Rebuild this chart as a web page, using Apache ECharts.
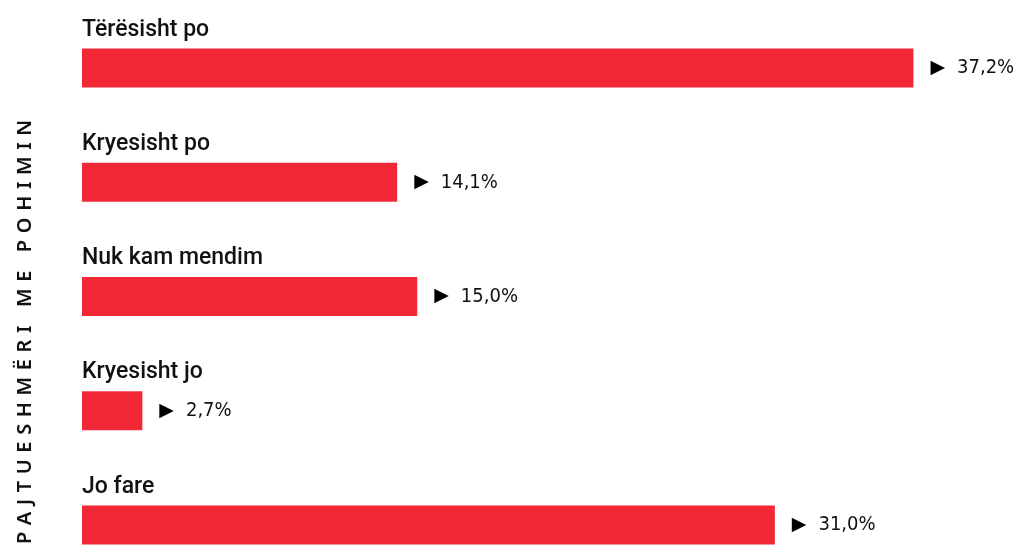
<!DOCTYPE html>
<html>
<head>
<meta charset="utf-8">
<script src="https://cdn.jsdelivr.net/npm/echarts@6/dist/echarts.min.js"></script>
<style>
  html, body { margin: 0; padding: 0; background: #fff; }
  #chart { width: 1013px; height: 545px; }
</style>
</head>
<body>
<div id="chart"></div>
<script>
// kategorite dhe perqindjet
var categories = ['Tërësisht po', 'Kryesisht po', 'Nuk kam mendim', 'Kryesisht jo', 'Jo fare'];
var values = [37.2, 14.1, 15.0, 2.7, 31.0];
var axisTitle = 'PAJTUESHMËRI ME POHIMIN';

var red = '#f32837';

// hapesire mes shkronjave (echarts s'ka letterSpacing)
function spaced(s) {
    return s.split('').join('\u2009\u2009');
}

var chart = echarts.init(document.getElementById('chart'));
chart.setOption({
    animation: false,
    grid: { left: 82, top: 11, width: 894, height: 571, outerBoundsMode: 'none' },
    xAxis: {
        type: 'value',
        min: 0,
        max: 40,
        show: false
    },
    yAxis: {
        type: 'category',
        data: categories,
        inverse: true,
        axisLine: { show: false },
        axisTick: { show: false },
        axisLabel: { show: false }
    },
    graphic: [
        {
            type: 'text',
            x: 25,
            y: 332,
            rotation: Math.PI / 2,
            style: {
                text: spaced(axisTitle),
                align: 'center',
                verticalAlign: 'middle',
                fontFamily: 'Noto Sans, sans-serif',
                fontSize: 20,
                fontWeight: 600,
                fill: '#111'
            }
        }
    ],
    series: [
        {
            type: 'bar',
            data: values,
            barWidth: 39,
            itemStyle: { color: red },
            label: {
                show: true,
                position: 'right',
                distance: 17,
                formatter: function (p) {
                    return '{tri|\u25B6}{num|' + p.value.toFixed(1).replace('.', ',') + '%}';
                },
                rich: {
                    tri: { fontFamily: 'DejaVu Sans', fontSize: 19, color: '#000', padding: [0, 12, 0, 0] },
                    num: { fontFamily: 'DejaVu Sans Condensed, Liberation Sans Narrow, sans-serif', fontWeight: 300, fontSize: 20, color: '#111' }
                }
            }
        },
        {
            type: 'bar',
            data: values,
            barWidth: 39,
            barGap: '-100%',
            itemStyle: { color: 'rgba(0,0,0,0)' },
            silent: true,
            label: {
                show: true,
                position: [0, -7],
                verticalAlign: 'bottom',
                formatter: function (p) { return p.name; },
                fontFamily: 'Roboto, sans-serif',
                fontWeight: 500,
                fontSize: 23,
                color: '#111'
            }
        }
    ]
});
</script>
</body>
</html>
